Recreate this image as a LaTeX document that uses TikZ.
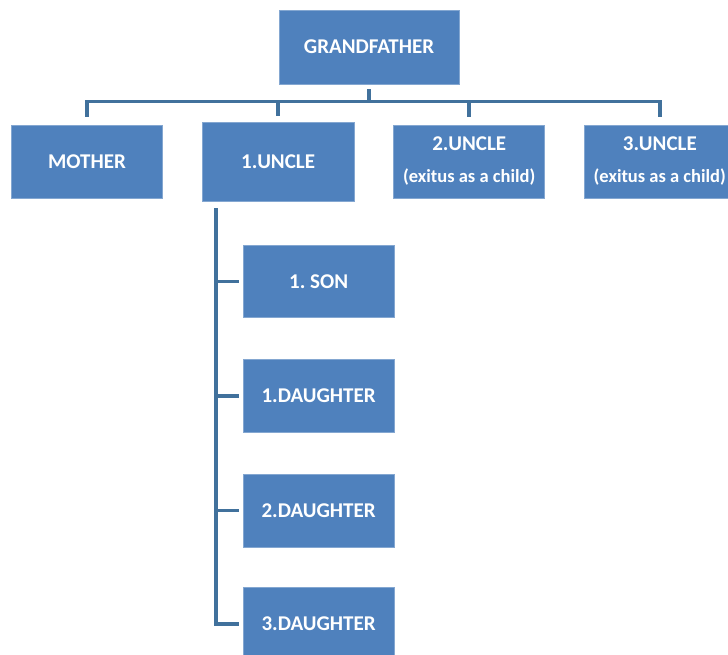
\documentclass[tikz,border=0pt]{standalone}
\usepackage{fontspec}
\setmainfont{Carlito}
\usepackage{xcolor}
\usepackage{tikz}
\usetikzlibrary{positioning,calc}
\definecolor{boxblue}{HTML}{4F81BD}
\definecolor{wireblue}{HTML}{41719C}
\newcommand{\notefont}{\fontsize{18.5}{32}\selectfont}
\frenchspacing

\begin{document}
\begin{tikzpicture}[
        x=1pt,y=-1pt,
        person/.style={draw=boxblue!70!white,line width=0.6pt,fill=boxblue,
                       minimum width=151pt,minimum height=73pt,align=center,inner sep=0pt,
                       text=white,font=\fontsize{21}{32}\selectfont\bfseries},
        link/.style={draw=wireblue,line width=3.6pt}
    ]
      \useasboundingbox (0,0) rectangle (728,654);
      % top level
      \node[person, minimum width=180pt, minimum height=74pt] (grand) at (369,47) {GRANDFATHER};
      \node[person] (mother) at (87,161.5) {MOTHER};
      \node[person, minimum width=152pt, minimum height=79pt, right=39pt of mother] (uncleA) {1.UNCLE};
      \node[person, right=39pt of uncleA] (uncleB) {2.UNCLE\\{\notefont(exitus as a child)}};
      \node[person, right=39pt of uncleB] (uncleC) {3.UNCLE\\{\notefont(exitus as a child)}};
      % children of 1.uncle
      \node[person, minimum height=72pt, below right=44pt and 41pt of uncleA.south west] (son) {1. SON};
      \node[person, below=41pt of son] (daughterA) {1.DAUGHTER};
      \node[person, below=41pt of daughterA] (daughterB) {2.DAUGHTER};
      \node[person, below=40pt of daughterB] (daughterC) {3.DAUGHTER};
      % connectors
      \coordinate (hub) at ($(grand.south)+(0,17)$);
      \draw[link, shorten <=5pt] (grand.south) -- (hub);
      \foreach \c in {mother,uncleB,uncleC}
        \draw[link, shorten >=8pt] (hub) -| (\c.north);
      \draw[link, shorten >=6pt] (hub) -| (uncleA.north);
      \coordinate (spine) at ($(uncleA.south west)+(14,0)$);
      \draw[link, shorten <=7pt, shorten >=4pt] (spine) |- (daughterC.west);
      \foreach \c in {son,daughterA,daughterB}
        \draw[link, shorten >=4pt] (spine |- \c.west) -- (\c.west);
    \end{tikzpicture}
\end{document}
